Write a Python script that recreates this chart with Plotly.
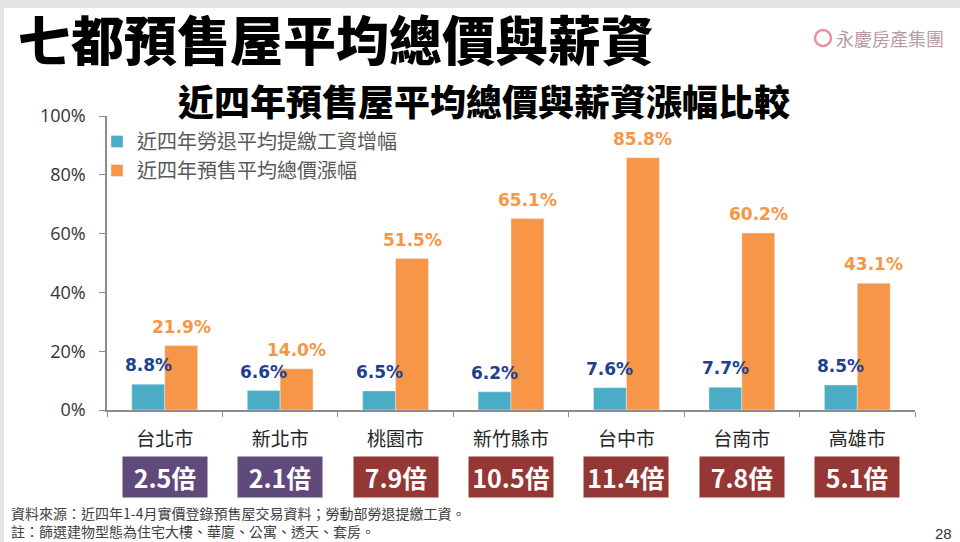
import plotly.graph_objects as go

# ---- data ----
cities = ["台北市", "新北市", "桃園市", "新竹縣市", "台中市", "台南市", "高雄市"]
wage_growth = [8.8, 6.6, 6.5, 6.2, 7.6, 7.7, 8.5]          # 近四年勞退平均提繳工資增幅 (%)
price_growth = [21.9, 14.0, 51.5, 65.1, 85.8, 60.2, 43.1]  # 近四年預售平均總價漲幅 (%)
ratios = ["2.5", "2.1", "7.9", "10.5", "11.4", "7.8", "5.1"]  # 倍數
y_ticks = [0, 20, 40, 60, 80, 100]

series_names = ["近四年勞退平均提繳工資增幅", "近四年預售平均總價漲幅"]
title_text = "七都預售屋平均總價與薪資"
subtitle_text = "近四年預售屋平均總價與薪資漲幅比較"
note1 = "資料來源：近四年1-4月實價登錄預售屋交易資料；勞動部勞退提繳工資。"
note2 = "註：篩選建物型態為住宅大樓、華廈、公寓、透天、套房。"

# ---- styles ----
W, H = 960, 542
ML, MR, MT, MB = 107, 45, 116, 132
TEAL = "#4BACC6"
ORANGE = "#F79646"
TEAL_LABEL = "#1F3F8F"
ORANGE_LABEL = "#F79646"
BOX_COLORS = ["#604A7B", "#604A7B", "#953735", "#953735", "#953735", "#953735", "#953735"]
CJK = "Noto Sans CJK TC"
NUM = "DejaVu Sans"

pw = W - ML - MR
ph = H - MT - MB


def px_x(x):
    return (x - ML) / pw


def px_y(y):
    return (H - MB - y) / ph


fig = go.Figure()
fig.add_trace(go.Bar(
    x=cities, y=wage_growth, name=series_names[0], marker_color=TEAL,
    legendgroup="a", hoverinfo="skip"))
fig.add_trace(go.Bar(
    x=cities, y=price_growth, name=series_names[1], marker_color=ORANGE,
    legendgroup="b", hoverinfo="skip"))

annotations = []
bar_half = pw / len(cities) * (1 - 0.43) / 4
for i, c in enumerate(cities):
    annotations.append(dict(
        x=c, y=wage_growth[i], xref="x", yref="y", text=f"{wage_growth[i]:.1f}%",
        showarrow=False, yanchor="bottom", xshift=-bar_half, yshift=7,
        font=dict(family=NUM, size=17, color=TEAL_LABEL, weight="bold")))
    annotations.append(dict(
        x=c, y=price_growth[i], xref="x", yref="y", text=f"{price_growth[i]:.1f}%",
        showarrow=False, yanchor="bottom", xshift=bar_half, yshift=7,
        font=dict(family=NUM, size=17, color=ORANGE_LABEL, weight="bold")))
    annotations.append(dict(
        x=c, y=px_y(477), xref="x", yref="paper", text=f"{ratios[i]}倍",
        showarrow=False, yanchor="middle", width=82, height=38,
        bgcolor=BOX_COLORS[i], align="center", valign="middle",
        font=dict(family=CJK, size=25, color="white", weight="bold")))

# titles and notes
annotations += [
    dict(x=px_x(16), y=px_y(38), xref="paper", yref="paper", text=title_text,
         showarrow=False, xanchor="left", yanchor="middle",
         font=dict(family=CJK, size=53, color="black", weight=900)),
    dict(x=px_x(176), y=px_y(100), xref="paper", yref="paper", text=subtitle_text,
         showarrow=False, xanchor="left", yanchor="middle",
         font=dict(family=CJK, size=36, color="black", weight=900)),
    dict(x=px_x(834), y=px_y(38), xref="paper", yref="paper", text="永慶房產集團",
         showarrow=False, xanchor="left", yanchor="middle",
         font=dict(family=CJK, size=18, color="#B89CA2")),
    dict(x=px_x(10), y=px_y(502), xref="paper", yref="paper", text=note1 + "<br>" + note2,
         showarrow=False, xanchor="left", yanchor="top", align="left", borderpad=0,
         font=dict(family=CJK, size=14, color="#404040")),
    dict(x=px_x(944), y=px_y(533), xref="paper", yref="paper", text="28",
         showarrow=False, xanchor="center", yanchor="middle",
         font=dict(family="Liberation Sans", size=15, color="#333333")),
]

shapes = [
    dict(type="rect", xref="paper", yref="paper", x0=px_x(0), x1=px_x(W), y0=px_y(8), y1=px_y(0),
         fillcolor="#E4E4E4", line_width=0, layer="below"),
    dict(type="rect", xref="paper", yref="paper", x0=px_x(0), x1=px_x(4), y0=px_y(H), y1=px_y(0),
         fillcolor="#E4E4E4", line_width=0, layer="below"),
    dict(type="circle", xref="paper", yref="paper", x0=px_x(815), x1=px_x(831), y0=px_y(46), y1=px_y(30),
         line=dict(color="#E8909C", width=2.5), fillcolor="rgba(0,0,0,0)"),
]

fig.update_layout(
    width=W, height=H,
    margin=dict(l=ML, r=MR, t=MT, b=MB),
    paper_bgcolor="white", plot_bgcolor="white",
    barmode="group", bargap=0.43, bargroupgap=0,
    showlegend=True,
    legend=dict(x=px_x(97), y=px_y(122), xanchor="left", yanchor="top",
                font=dict(family=CJK, size=20, color="#595959"),
                bgcolor="rgba(0,0,0,0)", tracegroupgap=0, traceorder="grouped"),
    annotations=annotations,
    shapes=shapes,
    xaxis=dict(showline=True, linecolor="#8C8C8C", linewidth=1.5,
               ticks="outside", tickson="boundaries", ticklen=5, tickcolor="#8C8C8C",
               tickfont=dict(family=CJK, size=19, color="#262626"),
               ticklabelstandoff=11, showgrid=False),
    yaxis=dict(range=[0, 100], tickvals=y_ticks, ticktext=[f"{v}%" for v in y_ticks],
               showline=True, linecolor="#8C8C8C", linewidth=1.5,
               ticks="outside", ticklen=6, tickcolor="#8C8C8C",
               tickfont=dict(family="Open Sans", size=18, color="#333333"),
               ticklabelstandoff=10, showgrid=False, zeroline=False),
)

fig.write_html("out.html", config={"displayModeBar": False},
               post_script="document.body.style.margin='0';")
